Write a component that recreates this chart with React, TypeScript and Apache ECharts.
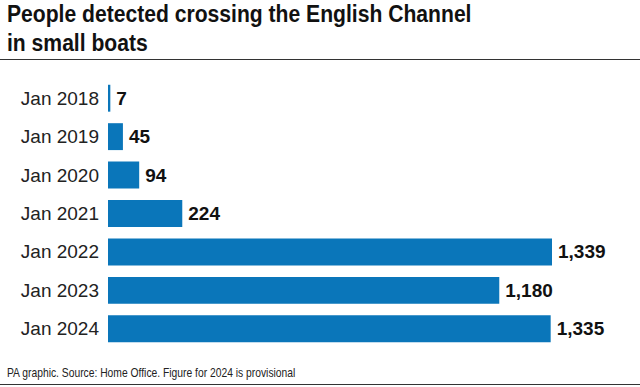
import React, { useEffect, useRef } from "react";
import * as echarts from "echarts";

const categories = ["Jan 2018", "Jan 2019", "Jan 2020", "Jan 2021", "Jan 2022", "Jan 2023", "Jan 2024"];
const values = [7, 45, 94, 224, 1339, 1180, 1335];
const titleLines = ["People detected crossing the English Channel", "in small boats"];
const footer = "PA graphic. Source: Home Office. Figure for 2024 is provisional";

export default function App() {
  const ref = useRef<HTMLDivElement>(null);
  useEffect(() => {
    const chart = echarts.init(ref.current!, undefined, { renderer: "svg" });
    const titleStyle = { fontFamily: "Liberation Sans", fontWeight: "bold", fontSize: 24, fill: "#111", verticalAlign: "top" };
    chart.setOption({
      animation: false,
      backgroundColor: "#ffffff",
      graphic: [
        { type: "text", x: 7, y: 2, scaleX: 0.88, style: { ...titleStyle, text: titleLines[0] } },
        { type: "text", x: 7, y: 31, scaleX: 0.88, style: { ...titleStyle, text: titleLines[1] } },
        { type: "line", shape: { x1: 0, y1: 59.5, x2: 640, y2: 59.5 }, style: { stroke: "#333", lineWidth: 1.2 } },
        { type: "line", shape: { x1: 0, y1: 384.5, x2: 640, y2: 384.5 }, style: { stroke: "#333", lineWidth: 1 } },
        {
          type: "text",
          x: 7,
          y: 365.5,
          scaleX: 0.794,
          style: { text: footer, fontFamily: "Liberation Sans", fontSize: 13, fill: "#222", verticalAlign: "top" },
        },
      ],
      grid: { left: 108, right: 88, top: 79, bottom: 387 - 348 },
      xAxis: { type: "value", min: 0, max: "dataMax", show: false },
      yAxis: {
        type: "category",
        data: categories,
        inverse: true,
        axisLine: { show: false },
        axisTick: { show: false },
        axisLabel: { margin: 9, fontFamily: "Liberation Sans", fontSize: 19, color: "#222" },
      },
      series: [
        {
          type: "bar",
          data: values,
          barCategoryGap: "30%",
          itemStyle: { color: "#0a76ba" },
          label: {
            show: true,
            position: "right",
            distance: 6,
            formatter: (p: any) => Number(p.value).toLocaleString("en-GB"),
            fontFamily: "Liberation Sans",
            fontWeight: "bold",
            fontSize: 19,
            color: "#111",
          },
        },
      ],
    });
    return () => chart.dispose();
  }, []);
  return <div ref={ref} style={{ width: 640, height: 387, position: "absolute", left: 0, top: 0 }} />;
}
